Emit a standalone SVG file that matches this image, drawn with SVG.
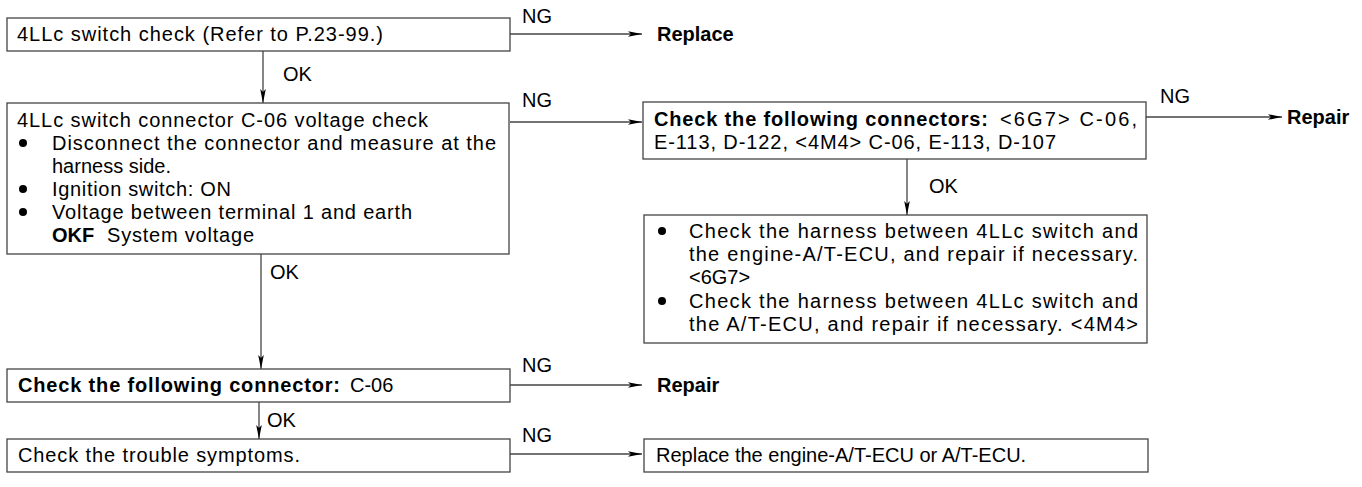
<svg xmlns="http://www.w3.org/2000/svg" width="1362" height="487" viewBox="0 0 1362 487">
<style>
text{font-family:"Liberation Sans",Arial,sans-serif;font-size:20px;fill:#000}
.b{font-weight:bold}
.box{fill:#fff;stroke:#444;stroke-width:1.3}
.ln{fill:none;stroke:#444;stroke-width:1.3}
.dot{fill:#000}
</style>
<defs>
<marker id="ah" viewBox="0 0 14 8" refX="14" refY="4" markerWidth="14" markerHeight="8" markerUnits="userSpaceOnUse" orient="auto">
<path d="M0,1.2 L14,4 L0,6.8 L3,4 z" fill="#000"/>
</marker>
</defs>
<rect width="1362" height="487" fill="#fff"/>

<g id="connectors">
<line class="ln" x1="263" y1="51" x2="263" y2="103" marker-end="url(#ah)"/>
<text x="283" y="81">OK</text>
<line class="ln" x1="510" y1="34" x2="642" y2="34" marker-end="url(#ah)"/>
<text x="522" y="23">NG</text>
<line class="ln" x1="510" y1="122" x2="642" y2="122" marker-end="url(#ah)"/>
<text x="522" y="107">NG</text>
<line class="ln" x1="1146" y1="117" x2="1282" y2="117" marker-end="url(#ah)"/>
<text x="1160" y="103">NG</text>
<line class="ln" x1="907" y1="159" x2="907" y2="215" marker-end="url(#ah)"/>
<text x="929" y="193">OK</text>
<line class="ln" x1="261" y1="254" x2="261" y2="369" marker-end="url(#ah)"/>
<text x="270" y="279">OK</text>
<line class="ln" x1="510" y1="385" x2="642" y2="385" marker-end="url(#ah)"/>
<text x="522" y="372">NG</text>
<line class="ln" x1="259" y1="402" x2="259" y2="439" marker-end="url(#ah)"/>
<text x="267" y="427">OK</text>
<line class="ln" x1="510" y1="454" x2="642" y2="454" marker-end="url(#ah)"/>
<text x="522" y="442">NG</text>
</g>

<g id="n1">
<rect class="box" x="7" y="18" width="503" height="33"/>
<text x="17" y="41" textLength="366" lengthAdjust="spacing">4LLc switch check (Refer to P.23-99.)</text>
</g>

<g id="replace1">
<text class="b" x="657" y="41">Replace</text>
</g>

<g id="n2">
<rect class="box" x="7" y="103" width="502" height="151"/>
<text x="17" y="127" textLength="411" lengthAdjust="spacing">4LLc switch connector C-06 voltage check</text>
<circle class="dot" cx="23" cy="143" r="4"/>
<text x="52" y="150" textLength="444" lengthAdjust="spacing">Disconnect the connector and measure at the</text>
<text x="52" y="173">harness side.</text>
<circle class="dot" cx="23" cy="189" r="4"/>
<text x="52" y="196" textLength="179" lengthAdjust="spacing">Ignition switch: ON</text>
<circle class="dot" cx="23" cy="212" r="4"/>
<text x="52" y="219" textLength="360" lengthAdjust="spacing">Voltage between terminal 1 and earth</text>
<text class="b" x="52" y="242">OKF</text>
<text x="107" y="242" textLength="147" lengthAdjust="spacing">System voltage</text>
</g>

<g id="n3">
<rect class="box" x="643" y="102" width="503" height="57"/>
<text class="b" x="654" y="126" textLength="334" lengthAdjust="spacing">Check the following connectors:</text>
<text x="1000" y="126" textLength="137" lengthAdjust="spacing">&lt;6G7&gt; C-06,</text>
<text x="654" y="149" textLength="402" lengthAdjust="spacing">E-113, D-122, &lt;4M4&gt; C-06, E-113, D-107</text>
</g>

<g id="repair1">
<text class="b" x="1287" y="124">Repair</text>
</g>

<g id="n4">
<rect class="box" x="644" y="215" width="503" height="128"/>
<circle class="dot" cx="662" cy="231" r="4"/>
<text x="689" y="238" textLength="449" lengthAdjust="spacing">Check the harness between 4LLc switch and</text>
<text x="689" y="261" textLength="449" lengthAdjust="spacing">the engine-A/T-ECU, and repair if necessary.</text>
<text x="689" y="284">&lt;6G7&gt;</text>
<circle class="dot" cx="662" cy="301" r="4"/>
<text x="689" y="308" textLength="449" lengthAdjust="spacing">Check the harness between 4LLc switch and</text>
<text x="689" y="331" textLength="449" lengthAdjust="spacing">the A/T-ECU, and repair if necessary. &lt;4M4&gt;</text>
</g>

<g id="n5">
<rect class="box" x="7" y="369" width="503" height="33"/>
<text class="b" x="18" y="392" textLength="322" lengthAdjust="spacing">Check the following connector:</text>
<text x="350" y="392">C-06</text>
</g>

<g id="repair2">
<text class="b" x="657" y="392">Repair</text>
</g>

<g id="n6">
<rect class="box" x="7" y="439" width="503" height="33"/>
<text x="18" y="462" textLength="282" lengthAdjust="spacing">Check the trouble symptoms.</text>
</g>

<g id="n7">
<rect class="box" x="644" y="439" width="504" height="33"/>
<text x="656" y="462">Replace the engine-A/T-ECU or A/T-ECU.</text>
</g>
</svg>
